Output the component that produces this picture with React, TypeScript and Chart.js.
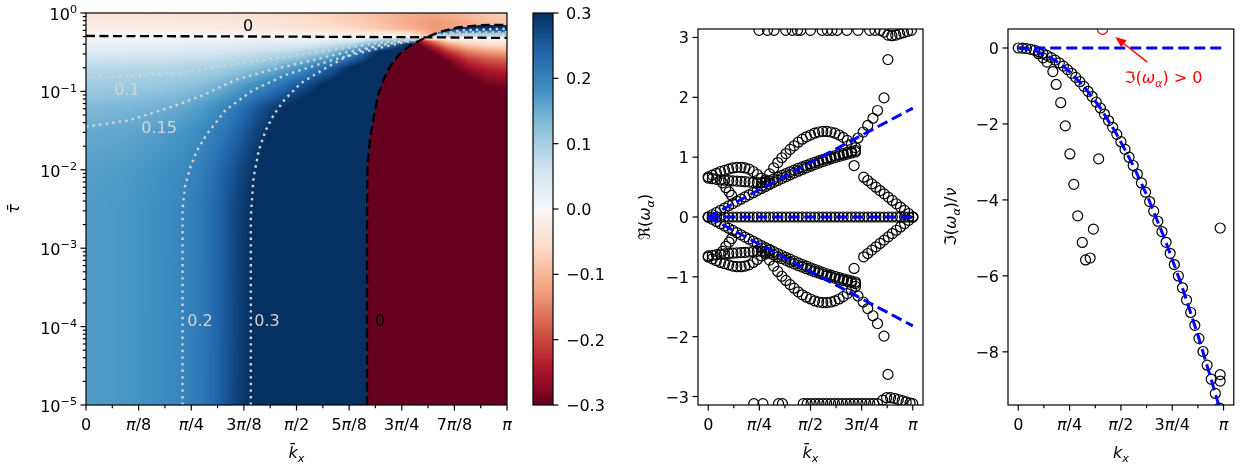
import React, { useEffect, useRef } from "react";
import { Chart, registerables } from "chart.js";
Chart.register(...registerables);

const FONT = '"DejaVu Sans", "Liberation Sans", sans-serif';
const FS = 16;

// ---------------- Ticks ----------------
const X8_VALUES = [0, 0.3927, 0.7854, 1.1781, 1.5708, 1.9635, 2.3562, 2.7489, 3.1416];
const X8_LABELS = ["0", "π/8", "π/4", "3π/8", "π/2", "5π/8", "3π/4", "7π/8", "π"];
const X16_MINOR = [0.19635, 0.589, 0.9817, 1.3744, 1.7671, 2.1598, 2.5525, 2.9452];
const X4_VALUES = [0, 0.7854, 1.5708, 2.3562, 3.1416];
const X4_LABELS = ["0", "π/4", "π/2", "3π/4", "π"];
const X8_MINOR = [0.3927, 1.1781, 1.9635, 2.7489];
const LOG_MAJOR = [1e-5, 1e-4, 1e-3, 1e-2, 1e-1, 1];
const LOG_LABELS = ["10^−5", "10^−4", "10^−3", "10^−2", "10^−1", "10^0"];
const LOG_MINOR = [
  2e-5, 3e-5, 4e-5, 5e-5, 6e-5, 7e-5, 8e-5, 9e-5,
  2e-4, 3e-4, 4e-4, 5e-4, 6e-4, 7e-4, 8e-4, 9e-4,
  2e-3, 3e-3, 4e-3, 5e-3, 6e-3, 7e-3, 8e-3, 9e-3,
  2e-2, 3e-2, 4e-2, 5e-2, 6e-2, 7e-2, 8e-2, 9e-2,
  0.2, 0.3, 0.4, 0.5, 0.6, 0.7, 0.8, 0.9,
];
const CB_VALUES = [-0.3, -0.2, -0.1, 0, 0.1, 0.2, 0.3];
const CB_LABELS = ["−0.3", "−0.2", "−0.1", "0.0", "0.1", "0.2", "0.3"];
const MID_Y_VALUES = [-3, -2, -1, 0, 1, 2, 3];
const MID_Y_LABELS = ["−3", "−2", "−1", "0", "1", "2", "3"];
const RIGHT_Y_VALUES = [0, -2, -4, -6, -8];
const RIGHT_Y_LABELS = ["0", "−2", "−4", "−6", "−8"];

// ---------------- Heatmap field (kx, log10 tau) ----------------
const B_K = [0, 0.3, 0.55, 0.72, 0.85, 0.95, 1.05, 1.15, 1.25, 1.4, 1.6, 1.8, 2.0, 2.2, 2.4, 2.6, 2.8, 3.0, 3.1416];
const B_LT = [-5, -2.5, -2, -1.5, -1.2, -0.9, -0.7, -0.5, -0.4, -0.3, -0.2, -0.1, 0];
const B_V = [
  [0.170, 0.175, 0.188, 0.200, 0.215, 0.235, 0.260, 0.285, 0.305, 0.340, 0.370, 0.385, 0.400, 0.400, 0.400, 0.400, 0.400, 0.400, 0.400],
  [0.170, 0.175, 0.187, 0.199, 0.214, 0.234, 0.258, 0.283, 0.303, 0.338, 0.368, 0.384, 0.400, 0.400, 0.400, 0.400, 0.400, 0.400, 0.400],
  [0.166, 0.171, 0.182, 0.193, 0.207, 0.226, 0.249, 0.274, 0.296, 0.330, 0.362, 0.380, 0.395, 0.400, 0.400, 0.400, 0.400, 0.400, 0.400],
  [0.152, 0.157, 0.167, 0.177, 0.190, 0.204, 0.222, 0.246, 0.272, 0.306, 0.340, 0.362, 0.380, 0.395, 0.400, 0.400, 0.400, 0.400, 0.400],
  [0.133, 0.137, 0.145, 0.154, 0.168, 0.183, 0.200, 0.222, 0.248, 0.283, 0.320, 0.348, 0.370, 0.385, 0.400, 0.400, 0.400, 0.400, 0.400],
  [0.105, 0.107, 0.112, 0.118, 0.126, 0.134, 0.146, 0.160, 0.178, 0.205, 0.255, 0.305, 0.340, 0.365, 0.385, 0.400, 0.400, 0.400, 0.400],
  [0.083, 0.085, 0.088, 0.092, 0.096, 0.100, 0.107, 0.115, 0.125, 0.142, 0.180, 0.240, 0.310, 0.355, 0.380, 0.400, 0.400, 0.400, 0.400],
  [0.045, 0.046, 0.048, 0.050, 0.052, 0.055, 0.058, 0.062, 0.067, 0.076, 0.090, 0.118, 0.200, 0.310, 0.350, 0.380, 0.400, 0.400, 0.400],
  [0.022, 0.023, 0.024, 0.025, 0.026, 0.027, 0.029, 0.031, 0.034, 0.038, 0.045, 0.060, 0.090, 0.180, 0.300, 0.350, 0.380, 0.400, 0.400],
  [0.003, 0.003, 0.003, 0.003, 0.003, 0.003, 0.003, 0.003, 0.003, 0.003, 0.002, 0.000, 0.000, 0.000, 0.000, -0.120, -0.120, -0.100, -0.090],
  [-0.018, -0.018, -0.019, -0.020, -0.021, -0.022, -0.023, -0.025, -0.027, -0.031, -0.038, -0.048, -0.062, -0.080, -0.105, -0.130, -0.120, -0.100, -0.090],
  [-0.030, -0.030, -0.031, -0.032, -0.033, -0.034, -0.036, -0.038, -0.041, -0.046, -0.053, -0.063, -0.075, -0.092, -0.115, -0.130, -0.115, -0.090, -0.080],
  [-0.040, -0.040, -0.041, -0.042, -0.043, -0.044, -0.046, -0.048, -0.051, -0.056, -0.062, -0.070, -0.080, -0.095, -0.110, -0.115, -0.100, -0.080, -0.070],
];
const R_K = [2.0, 2.4, 2.55, 2.7, 2.85, 3.0, 3.1416];
const R_LT = [-5, -1.1, -0.75, -0.6, -0.5, -0.42, -0.36, -0.32, -0.27, -0.22, -0.15, 0];
const R_V = [
  [-0.4, -0.4, -0.4, -0.4, -0.4, -0.4, -0.4],
  [-0.4, -0.4, -0.4, -0.4, -0.37, -0.34, -0.33],
  [-0.4, -0.4, -0.4, -0.34, -0.28, -0.25, -0.24],
  [-0.4, -0.4, -0.37, -0.29, -0.22, -0.19, -0.18],
  [-0.4, -0.4, -0.32, -0.22, -0.16, -0.13, -0.12],
  [-0.4, -0.38, -0.26, -0.15, -0.09, -0.07, -0.06],
  [-0.4, -0.35, -0.19, -0.07, -0.035, -0.025, -0.025],
  [-0.4, -0.3, -0.02, 0, 0, 0, 0],
  [0.4, 0.4, 0.18, 0.13, 0.12, 0.12, 0.12],
  [0.4, 0.4, 0.33, 0.26, 0.25, 0.25, 0.25],
  [0.4, 0.4, 0.4, 0.4, 0.4, 0.4, 0.4],
  [0.4, 0.4, 0.4, 0.4, 0.4, 0.4, 0.4],
];

// ---------------- Contours (kx, log10 tau) ----------------
const ZC_K = [2.097, 2.097, 2.10, 2.12, 2.15, 2.18, 2.22, 2.27, 2.34, 2.43, 2.54, 2.64, 2.77, 2.94, 3.1416];
const ZC_LT = [-5, -2.6, -2.0, -1.6, -1.3, -1.05, -0.85, -0.68, -0.52, -0.40, -0.31, -0.24, -0.185, -0.155, -0.15];
const ZH_K = [0, 1.0, 2.0, 2.54, 3.1416];
const ZH_LT = [-0.293, -0.298, -0.305, -0.31, -0.318];
const C01_K = [0, 0.4, 0.75, 1.12, 1.49, 1.84, 2.2, 2.54, 2.8, 3.1416];
const C01_LT = [-0.83, -0.80, -0.75, -0.65, -0.56, -0.47, -0.38, -0.31, -0.285, -0.28];
const C015_K = [0, 0.32, 0.62, 0.87, 1.12, 1.37, 1.62, 1.84, 2.2, 2.54, 2.8, 3.1416];
const C015_LT = [-1.45, -1.37, -1.21, -1.05, -0.85, -0.73, -0.63, -0.54, -0.41, -0.31, -0.27, -0.265];
const C02_K = [0.72, 0.72, 0.74, 0.78, 0.83, 0.90, 1.04, 1.25, 1.49, 1.84, 2.2, 2.54, 2.8, 3.1416];
const C02_LT = [-5, -2.5, -2.2, -1.96, -1.75, -1.55, -1.24, -0.98, -0.79, -0.60, -0.44, -0.31, -0.25, -0.245];
const C03_K = [1.23, 1.23, 1.25, 1.29, 1.34, 1.40, 1.48, 1.60, 1.78, 1.97, 2.2, 2.54, 2.8, 3.1416];
const C03_LT = [-5, -2.6, -2.1, -1.75, -1.5, -1.3, -1.11, -0.90, -0.71, -0.53, -0.40, -0.31, -0.22, -0.20];
const HEAT_LABEL_TEXT = ["0", "0.1", "0.15", "0.2", "0.3", "0"];
const HEAT_LABEL_K = [1.209, 0.306, 0.546, 0.851, 1.351, 2.194];
const HEAT_LABEL_LT = [-0.147, -0.97, -1.454, -3.92, -3.92, -3.92];
const HEAT_LABEL_DARK = [true, false, false, false, false, true];

// ---------------- Middle panel: Re(omega) ----------------
const K51 = [0, 0.063, 0.126, 0.188, 0.251, 0.314, 0.377, 0.440, 0.503, 0.565, 0.628, 0.691, 0.754, 0.817, 0.880, 0.942, 1.005, 1.068, 1.131, 1.194, 1.257, 1.319, 1.382, 1.445, 1.508, 1.571, 1.634, 1.696, 1.759, 1.822, 1.885, 1.948, 2.011, 2.073, 2.136, 2.199, 2.262, 2.325, 2.388, 2.450, 2.513, 2.576, 2.639, 2.702, 2.765, 2.827, 2.890, 2.953, 3.016, 3.079, 3.142];
const ZERO_Y = [0, 0, 0, 0, 0, 0, 0, 0, 0, 0, 0, 0, 0, 0, 0, 0, 0, 0, 0, 0, 0, 0, 0, 0, 0, 0, 0, 0, 0, 0, 0, 0, 0, 0, 0, 0, 0, 0, 0, 0, 0, 0, 0, 0, 0, 0, 0, 0, 0, 0, 0];
const LIN_Y = [0, 0.038, 0.075, 0.113, 0.150, 0.188, 0.225, 0.262, 0.298, 0.335, 0.371, 0.406, 0.442, 0.477, 0.511, 0.545, 0.578, 0.611, 0.643, 0.675, 0.705, 0.735, 0.765, 0.794, 0.821, 0.849, 0.875, 0.900, 0.925, 0.948, 0.971, 0.993, 1.013, 1.033, 1.052, 1.069, 1.086];
const LIN_YN = [0, -0.038, -0.075, -0.113, -0.150, -0.188, -0.225, -0.262, -0.298, -0.335, -0.371, -0.406, -0.442, -0.477, -0.511, -0.545, -0.578, -0.611, -0.643, -0.675, -0.705, -0.735, -0.765, -0.794, -0.821, -0.849, -0.875, -0.900, -0.925, -0.948, -0.971, -0.993, -1.013, -1.033, -1.052, -1.069, -1.086];
const BAND2_Y = [0.575, 0.605, 0.635, 0.665, 0.695, 0.725, 0.755, 0.783, 0.811, 0.838, 0.864, 0.890, 0.914, 0.938, 0.961, 0.983, 1.004, 1.024, 1.043, 1.062, 1.080, 1.097, 1.113];
const BAND2_YN = [-0.575, -0.605, -0.635, -0.665, -0.695, -0.725, -0.755, -0.783, -0.811, -0.838, -0.864, -0.890, -0.914, -0.938, -0.961, -0.983, -1.004, -1.024, -1.043, -1.062, -1.080, -1.097, -1.113];
const LOBE_UP_Y = [0.67, 0.70, 0.73, 0.76, 0.78, 0.80, 0.82, 0.83, 0.83, 0.82, 0.80, 0.76, 0.71, 0.65, 0.59, 0.55];
const LOBE_UP_YN = [-0.67, -0.70, -0.73, -0.76, -0.78, -0.80, -0.82, -0.83, -0.83, -0.82, -0.80, -0.76, -0.71, -0.65, -0.59, -0.55];
const LOBE_LOW_Y = [0.65, 0.64, 0.63, 0.62, 0.615, 0.61, 0.605, 0.60, 0.595, 0.59, 0.585, 0.58, 0.575, 0.57];
const LOBE_LOW_YN = [-0.65, -0.64, -0.63, -0.62, -0.615, -0.61, -0.605, -0.60, -0.595, -0.59, -0.585, -0.58, -0.575, -0.57];
const DESC_K = [0.22, 0.27, 0.32, 0.36];
const DESC_Y = [0.57, 0.49, 0.42, 0.36];
const DESC_YN = [-0.57, -0.49, -0.42, -0.36];
const HUMP_Y = [0.52, 0.62, 0.72, 0.82, 0.91, 0.99, 1.06, 1.13, 1.19, 1.25, 1.30, 1.34, 1.37, 1.40, 1.42, 1.43, 1.43, 1.42, 1.40, 1.37, 1.33, 1.28, 1.22, 1.16];
const HUMP_YN = [-0.52, -0.62, -0.72, -0.82, -0.91, -0.99, -1.06, -1.13, -1.19, -1.25, -1.30, -1.34, -1.37, -1.40, -1.42, -1.43, -1.43, -1.42, -1.40, -1.37, -1.33, -1.28, -1.22, -1.16];
const SINGLE_K = [2.24, 2.24];
const SINGLE_Y = [0.86, -0.86];
const RDESC_Y = [0.665, 0.61, 0.553, 0.498, 0.442, 0.387, 0.332, 0.277, 0.221, 0.166, 0.11, 0.055, 0];
const RDESC_YN = [-0.665, -0.61, -0.553, -0.498, -0.442, -0.387, -0.332, -0.277, -0.221, -0.166, -0.11, -0.055, 0];
const RISE_K = [2.30, 2.38, 2.45, 2.53, 2.60, 2.70, 2.76];
const RISE_Y = [1.32, 1.42, 1.53, 1.65, 1.78, 1.99, 2.63];
const RISE_YN = [-1.32, -1.42, -1.53, -1.65, -1.78, -1.99, -2.63];
const TOP_K = [0.78, 0.91, 1.01, 1.19, 1.29, 1.37, 1.42, 1.57, 1.75, 1.83, 1.90, 1.98, 2.13, 2.30, 2.48, 2.56, 2.64];
const TOP_Y = [3.12, 3.12, 3.12, 3.12, 3.12, 3.12, 3.12, 3.12, 3.12, 3.12, 3.12, 3.12, 3.12, 3.12, 3.12, 3.12, 3.12];
const TOPBUMP_K = [2.70, 2.76, 2.82, 2.88, 2.94, 3.00, 3.06, 3.12];
const TOPBUMP_Y = [3.09, 3.04, 3.03, 3.04, 3.06, 3.08, 3.10, 3.12];
const BOT_K = [0.70, 0.84, 1.08, 1.14, 1.46, 1.52, 1.58, 1.64, 1.70, 1.76, 1.82, 1.88, 1.94, 2.00, 2.06, 2.12, 2.18, 2.24, 2.30, 2.36, 2.42, 2.48, 2.54, 2.60];
const BOT_Y = [-3.12, -3.12, -3.12, -3.12, -3.12, -3.12, -3.12, -3.12, -3.12, -3.12, -3.12, -3.12, -3.12, -3.12, -3.12, -3.12, -3.12, -3.12, -3.12, -3.12, -3.12, -3.12, -3.12, -3.12];
const BOTBUMP_K = [2.68, 2.74, 2.80, 2.86, 2.92, 2.98, 3.04, 3.10, 3.14];
const BOTBUMP_Y = [-3.06, -3.02, -3.02, -3.03, -3.05, -3.07, -3.09, -3.11, -3.12];
const SOUND_K = [0, 3.1416];
const SOUND_UP = [0, 1.82];
const SOUND_DN = [0, -1.82];
const SOUND_ZERO = [0, 0];

// ---------------- Right panel: Im(omega)/nu ----------------
const MAIN_Y = [0, -0.004, -0.016, -0.035, -0.063, -0.099, -0.142, -0.194, -0.253, -0.319, -0.394, -0.477, -0.569, -0.667, -0.774, -0.887, -1.010, -1.141, -1.279, -1.426, -1.580, -1.740, -1.910, -2.088, -2.274, -2.468, -2.670, -2.876, -3.094, -3.320, -3.553, -3.795, -4.044, -4.297, -4.562, -4.836, -5.117, -5.406, -5.702, -6.003, -6.315, -6.636, -6.964, -7.301, -7.645, -7.992, -8.352, -8.720, -9.096, -9.480];
const STEEP_K = [0.31, 0.38, 0.44, 0.53, 0.58, 0.65, 0.72, 0.79, 0.85, 0.91, 0.98, 1.03, 1.10, 1.15, 1.23];
const STEEP_Y = [-0.15, -0.26, -0.37, -0.62, -0.96, -1.44, -2.05, -2.79, -3.59, -4.42, -5.12, -5.58, -5.53, -4.77, -2.92];
const OUT_K = [3.09, 3.09, 3.09];
const OUT_Y = [-4.74, -8.6, -8.77];
const UNSTABLE_K = [1.29];
const UNSTABLE_Y = [0.49];
const DAMP_K = [0, 0.25, 0.5, 0.75, 1.0, 1.25, 1.5, 1.75, 2.0, 2.25, 2.5, 2.75, 3.0, 3.07];
const DAMP_Y = [0, -0.0625, -0.25, -0.5625, -1, -1.5625, -2.25, -3.0625, -4, -5.0625, -6.25, -7.5625, -9, -9.42];
const DAMP0_K = [0, 3.1416];
const DAMP0_Y = [0, 0];
const ARROW_FROM = [1.975, -0.37];
const ARROW_TO = [1.485, 0.29];
const NOTE_POS = [2.22, -0.76];

// ---------------- helpers ----------------
type Seg = { t: string; it?: boolean; sub?: boolean; sup?: boolean };
const RDBU = [[103, 0, 31], [178, 24, 43], [214, 96, 77], [244, 165, 130], [253, 219, 199], [247, 247, 247], [209, 229, 240], [146, 197, 222], [67, 147, 195], [33, 102, 172], [5, 48, 97]];
function cmap(v: number) {
  let t = (v + 0.3) / 0.6;
  t = Math.max(0, Math.min(1, t));
  const f = t * 10;
  const i = Math.min(9, Math.floor(f));
  const r = f - i;
  const a = RDBU[i], b = RDBU[i + 1];
  return [a[0] + (b[0] - a[0]) * r, a[1] + (b[1] - a[1]) * r, a[2] + (b[2] - a[2]) * r];
}
function locate(arr: number[], v: number): [number, number] {
  const n = arr.length;
  if (v <= arr[0]) return [0, 0];
  if (v >= arr[n - 1]) return [n - 2, 1];
  let i = 0;
  while (i < n - 2 && v > arr[i + 1]) i++;
  const d = arr[i + 1] - arr[i];
  return [i, d === 0 ? 0 : (v - arr[i]) / d];
}
function bilinear(xs: number[], ys: number[], g: number[][], x: number, y: number) {
  const [i, fx] = locate(xs, x);
  const [j, fy] = locate(ys, y);
  const a = g[j][i] * (1 - fx) + g[j][i + 1] * fx;
  const b = g[j + 1][i] * (1 - fx) + g[j + 1][i + 1] * fx;
  return a * (1 - fy) + b * fy;
}
function interp1(xs: number[], ys: number[], x: number) {
  const [i, f] = locate(xs, x);
  return ys[i] * (1 - f) + ys[i + 1] * f;
}
const pts = (xs: number[], ys: number[]) => xs.map((x, i) => ({ x, y: ys[i] }));
const tau = (lts: number[]) => lts.map((v) => Math.pow(10, v));

function parseLabel(s: string): Seg[] {
  const out: Seg[] = [];
  let sup = false;
  for (const ch of s) {
    if (ch === "^") { sup = true; continue; }
    out.push({ t: ch, it: ch === "π", sup });
  }
  return out;
}
function segFont(s: Seg, size: number) {
  const sz = s.sub || s.sup ? size * 0.7 : size;
  return `${s.it ? "italic " : ""}${sz}px ${FONT}`;
}
function drawRich(ctx: CanvasRenderingContext2D, segs: Seg[], x: number, y: number, size: number, align: string, color: string) {
  let w = 0;
  for (const s of segs) { ctx.font = segFont(s, size); w += ctx.measureText(s.t).width; }
  let cx = align === "left" ? x : align === "center" ? x - w / 2 : x - w;
  ctx.save();
  ctx.fillStyle = color;
  ctx.textBaseline = "alphabetic";
  ctx.textAlign = "left";
  for (const s of segs) {
    ctx.font = segFont(s, size);
    const dy = s.sub ? size * 0.25 : s.sup ? -size * 0.42 : 0;
    ctx.fillText(s.t, cx, y + dy);
    cx += ctx.measureText(s.t).width;
  }
  ctx.restore();
}

type Tick = { v: number; label?: Seg[]; minor?: boolean };
function mkTicks(values: number[], labels: string[] | null, minor: number[]): Tick[] {
  const t: Tick[] = values.map((v, i) => ({ v, label: labels ? parseLabel(labels[i]) : undefined }));
  for (const v of minor) t.push({ v, minor: true });
  return t;
}

function axesPlugin(cfg: any) {
  return {
    id: "axes_" + cfg.id,
    afterDraw(chart: any) {
      const ctx: CanvasRenderingContext2D = chart.ctx;
      const a = chart.chartArea;
      const xs = chart.scales.x, ys = chart.scales.y;
      ctx.save();
      ctx.strokeStyle = "#000";
      ctx.lineWidth = 1.2;
      ctx.strokeRect(a.left, a.top, a.right - a.left, a.bottom - a.top);
      for (const t of cfg.xTicks || []) {
        const px = xs.getPixelForValue(t.v);
        const len = t.minor ? 3.2 : 5.5;
        ctx.beginPath(); ctx.moveTo(px, a.bottom); ctx.lineTo(px, a.bottom + len); ctx.stroke();
        if (t.label) drawRich(ctx, t.label, px, a.bottom + 25, FS, "center", "#000");
      }
      for (const t of cfg.yTicks || []) {
        const py = ys.getPixelForValue(t.v);
        const len = t.minor ? 3.2 : 5.5;
        ctx.beginPath();
        if (cfg.yRight) { ctx.moveTo(a.right, py); ctx.lineTo(a.right + len, py); }
        else { ctx.moveTo(a.left - len, py); ctx.lineTo(a.left, py); }
        ctx.stroke();
        if (t.label) {
          if (cfg.yRight) drawRich(ctx, t.label, a.right + 13, py + cfg.yOff, FS, "left", "#000");
          else drawRich(ctx, t.label, a.left - 9, py + cfg.yOff, FS, "right", "#000");
        }
      }
      if (cfg.xTitle) drawRich(ctx, cfg.xTitle, (a.left + a.right) / 2, 458, FS, "center", "#000");
      if (cfg.yTitle) {
        ctx.save();
        ctx.translate(cfg.yTitleX, (a.top + a.bottom) / 2);
        ctx.rotate(-Math.PI / 2);
        drawRich(ctx, cfg.yTitle, 0, FS * 0.35, FS, "center", "#000");
        ctx.restore();
      }
      ctx.restore();
    },
  };
}

const heatPlugin = {
  id: "heat",
  beforeDatasetsDraw(chart: any) {
    const ctx: CanvasRenderingContext2D = chart.ctx;
    const a = chart.chartArea;
    const xs = chart.scales.x, ys = chart.scales.y;
    const L = Math.round(a.left), T = Math.round(a.top);
    const W = Math.round(a.right) - L, H = Math.round(a.bottom) - T;
    const img = ctx.createImageData(W, H);
    const colK: number[] = [];
    for (let i = 0; i < W; i++) colK.push(xs.getValueForPixel(L + i + 0.5));
    const ltMax = ZC_LT[ZC_LT.length - 1];
    for (let j = 0; j < H; j++) {
      const lt = Math.log10(ys.getValueForPixel(T + j + 0.5));
      const kc = lt > ltMax ? Infinity : interp1(ZC_LT, ZC_K, lt);
      for (let i = 0; i < W; i++) {
        const k = colK[i];
        const v = k > kc ? bilinear(R_K, R_LT, R_V, k, lt) : bilinear(B_K, B_LT, B_V, k, lt);
        const c = cmap(v);
        const o = (j * W + i) * 4;
        img.data[o] = c[0]; img.data[o + 1] = c[1]; img.data[o + 2] = c[2]; img.data[o + 3] = 255;
      }
    }
    ctx.putImageData(img, L, T);
  },
  afterDatasetsDraw(chart: any) {
    const ctx: CanvasRenderingContext2D = chart.ctx;
    const xs = chart.scales.x, ys = chart.scales.y;
    HEAT_LABEL_TEXT.forEach((t, i) => {
      const px = xs.getPixelForValue(HEAT_LABEL_K[i]);
      const py = ys.getPixelForValue(Math.pow(10, HEAT_LABEL_LT[i]));
      drawRich(ctx, parseLabel(t), px, py + 6, FS, "center", HEAT_LABEL_DARK[i] ? "#000" : "#d3d3d3");
    });
  },
};

const cbarPlugin = {
  id: "cbar",
  beforeDatasetsDraw(chart: any) {
    const ctx: CanvasRenderingContext2D = chart.ctx;
    const a = chart.chartArea;
    const ys = chart.scales.y;
    for (let py = Math.round(a.top); py < Math.round(a.bottom); py++) {
      const c = cmap(ys.getValueForPixel(py + 0.5));
      ctx.fillStyle = `rgb(${c[0] | 0},${c[1] | 0},${c[2] | 0})`;
      ctx.fillRect(a.left, py, a.right - a.left, 1);
    }
  },
};

const notePlugin = {
  id: "note",
  afterDatasetsDraw(chart: any) {
    const ctx: CanvasRenderingContext2D = chart.ctx;
    const xs = chart.scales.x, ys = chart.scales.y;
    const x0 = xs.getPixelForValue(ARROW_FROM[0]), y0 = ys.getPixelForValue(ARROW_FROM[1]);
    const x1 = xs.getPixelForValue(ARROW_TO[0]), y1 = ys.getPixelForValue(ARROW_TO[1]);
    const ang = Math.atan2(y1 - y0, x1 - x0);
    const hl = 11, hw = 4.5;
    const bx = x1 - hl * Math.cos(ang), by = y1 - hl * Math.sin(ang);
    ctx.save();
    ctx.strokeStyle = "#ff0000";
    ctx.fillStyle = "#ff0000";
    ctx.lineWidth = 1.5;
    ctx.beginPath(); ctx.moveTo(x0, y0); ctx.lineTo(bx, by); ctx.stroke();
    ctx.beginPath();
    ctx.moveTo(x1, y1);
    ctx.lineTo(bx + hw * Math.sin(ang), by - hw * Math.cos(ang));
    ctx.lineTo(bx - hw * Math.sin(ang), by + hw * Math.cos(ang));
    ctx.closePath(); ctx.fill();
    ctx.restore();
    const tx = xs.getPixelForValue(NOTE_POS[0]), ty = ys.getPixelForValue(NOTE_POS[1]);
    drawRich(ctx, [{ t: "ℑ" }, { t: "(" }, { t: "ω", it: true }, { t: "α", it: true, sub: true }, { t: ") > 0" }], tx, ty + 6, FS, "center", "#ff0000");
  },
};

function baseOptions(pad: any, xMin: number, xMax: number, yMin: number, yMax: number, yType = "linear") {
  return {
    responsive: false,
    maintainAspectRatio: false,
    animation: false,
    devicePixelRatio: 1,
    events: [],
    layout: { padding: pad },
    plugins: { legend: { display: false }, tooltip: { enabled: false } },
    scales: {
      x: { type: "linear", min: xMin, max: xMax, display: false },
      y: { type: yType, min: yMin, max: yMax, display: false },
    },
  };
}
const lineDs = (xs: number[], ys: number[], color: string, width: number, dash: number[]) => ({
  data: pts(xs, ys), showLine: true, pointRadius: 0, borderColor: color, borderWidth: width,
  borderDash: dash, borderCapStyle: "butt", fill: false, tension: 0, order: 0, clip: 0,
});
const circDs = (xs: number[], ys: number[], color = "#000") => ({
  data: pts(xs, ys), showLine: false, pointRadius: 5, pointBorderWidth: 1.2, pointBorderColor: color,
  pointBackgroundColor: "rgba(0,0,0,0)", pointStyle: "circle", order: 1, clip: 0,
});

const KX_BAR: Seg[] = [{ t: "k\u0304", it: true }, { t: "x", it: true, sub: true }];

export default function App() {
  const r1 = useRef<HTMLCanvasElement>(null);
  const r2 = useRef<HTMLCanvasElement>(null);
  const r3 = useRef<HTMLCanvasElement>(null);
  const r4 = useRef<HTMLCanvasElement>(null);

  useEffect(() => {
    const charts: Chart[] = [];
    const dot = [2.4, 4.2];
    const dash = [9, 4.5];
    charts.push(new Chart(r1.current as HTMLCanvasElement, {
      type: "scatter",
      data: {
        datasets: [
          lineDs(ZH_K, tau(ZH_LT), "#000", 2.3, dash),
          lineDs(ZC_K, tau(ZC_LT), "#000", 2.3, dash),
          lineDs(C01_K, tau(C01_LT), "#d3d3d3", 2.4, dot),
          lineDs(C015_K, tau(C015_LT), "#d3d3d3", 2.4, dot),
          lineDs(C02_K, tau(C02_LT), "#d3d3d3", 2.4, dot),
          lineDs(C03_K, tau(C03_LT), "#d3d3d3", 2.4, dot),
        ] as any,
      },
      options: baseOptions({ left: 86, top: 13, right: 13, bottom: 62 }, 0, 3.14159265, 1e-5, 1, "logarithmic") as any,
      plugins: [heatPlugin, axesPlugin({
        id: "heat",
        xTicks: mkTicks(X8_VALUES, X8_LABELS, X16_MINOR),
        yTicks: mkTicks(LOG_MAJOR, LOG_LABELS, LOG_MINOR),
        yOff: 7,
        xTitle: KX_BAR,
        yTitle: [{ t: "τ\u0304", it: true }],
        yTitleX: 13,
      })],
    } as any));

    charts.push(new Chart(r2.current as HTMLCanvasElement, {
      type: "scatter",
      data: { datasets: [] },
      options: baseOptions({ left: 13, top: 13, right: 67, bottom: 62 }, 0, 1, -0.3, 0.3) as any,
      plugins: [cbarPlugin, axesPlugin({
        id: "cbar",
        yTicks: mkTicks(CB_VALUES, CB_LABELS, []),
        yRight: true,
        yOff: 6,
      })],
    } as any));

    charts.push(new Chart(r3.current as HTMLCanvasElement, {
      type: "scatter",
      data: {
        datasets: [
          lineDs(SOUND_K, SOUND_UP, "#0000ff", 3, [11, 5]),
          lineDs(SOUND_K, SOUND_DN, "#0000ff", 3, [11, 5]),
          lineDs(SOUND_K, SOUND_ZERO, "#0000ff", 3, [11, 5]),
          circDs(K51, ZERO_Y),
          circDs(K51.slice(0, 37), LIN_Y),
          circDs(K51.slice(0, 37), LIN_YN),
          circDs(K51.slice(14, 37), BAND2_Y),
          circDs(K51.slice(14, 37), BAND2_YN),
          circDs(K51.slice(0, 16), LOBE_UP_Y),
          circDs(K51.slice(0, 16), LOBE_UP_YN),
          circDs(K51.slice(0, 14), LOBE_LOW_Y),
          circDs(K51.slice(0, 14), LOBE_LOW_YN),
          circDs(DESC_K, DESC_Y),
          circDs(DESC_K, DESC_YN),
          circDs(K51.slice(13, 37), HUMP_Y),
          circDs(K51.slice(13, 37), HUMP_YN),
          circDs(SINGLE_K, SINGLE_Y),
          circDs(K51.slice(38, 51), RDESC_Y),
          circDs(K51.slice(38, 51), RDESC_YN),
          circDs(RISE_K, RISE_Y),
          circDs(RISE_K, RISE_YN),
          circDs(TOP_K, TOP_Y),
          circDs(TOPBUMP_K, TOPBUMP_Y),
          circDs(BOT_K, BOT_Y),
          circDs(BOTBUMP_K, BOTBUMP_Y),
        ] as any,
      },
      options: baseOptions({ left: 78, top: 29, right: 7, bottom: 62 }, -0.157, 3.2986, -3.1416, 3.1416) as any,
      plugins: [axesPlugin({
        id: "mid",
        xTicks: mkTicks(X4_VALUES, X4_LABELS, X8_MINOR),
        yTicks: mkTicks(MID_Y_VALUES, MID_Y_LABELS, []),
        yOff: 6,
        xTitle: KX_BAR,
        yTitle: [{ t: "ℜ" }, { t: "(" }, { t: "ω", it: true }, { t: "α", it: true, sub: true }, { t: ")" }],
        yTitleX: 24,
      })],
    } as any));

    charts.push(new Chart(r4.current as HTMLCanvasElement, {
      type: "scatter",
      data: {
        datasets: [
          lineDs(DAMP0_K, DAMP0_Y, "#0000ff", 3, [11, 5]),
          lineDs(DAMP_K, DAMP_Y, "#0000ff", 3, [11, 5]),
          circDs(K51.slice(0, 50), MAIN_Y),
          circDs(STEEP_K, STEEP_Y),
          circDs(OUT_K, OUT_Y),
          circDs(UNSTABLE_K, UNSTABLE_Y, "#ff0000"),
        ] as any,
      },
      options: baseOptions({ left: 78, top: 29, right: 6, bottom: 62 }, -0.157, 3.2986, -9.4, 0.5) as any,
      plugins: [notePlugin, axesPlugin({
        id: "right",
        xTicks: mkTicks(X4_VALUES, X4_LABELS, X8_MINOR),
        yTicks: mkTicks(RIGHT_Y_VALUES, RIGHT_Y_LABELS, []),
        yOff: 6,
        xTitle: [{ t: "k", it: true }, { t: "x", it: true, sub: true }],
        yTitle: [{ t: "ℑ" }, { t: "(" }, { t: "ω", it: true }, { t: "α", it: true, sub: true }, { t: ")/" }, { t: "ν", it: true }],
        yTitleX: 20,
      })],
    } as any));

    return () => charts.forEach((c) => c.destroy());
  }, []);

  const cs = (left: number): React.CSSProperties => ({ position: "absolute", left, top: 0 });
  return (
    <div style={{ position: "absolute", left: 0, top: 0, width: 1240, height: 467, background: "#fff" }}>
      <canvas ref={r1} width={520} height={467} style={cs(0)} />
      <canvas ref={r2} width={100} height={467} style={cs(520)} />
      <canvas ref={r3} width={310} height={467} style={cs(620)} />
      <canvas ref={r4} width={310} height={467} style={cs(930)} />
    </div>
  );
}
